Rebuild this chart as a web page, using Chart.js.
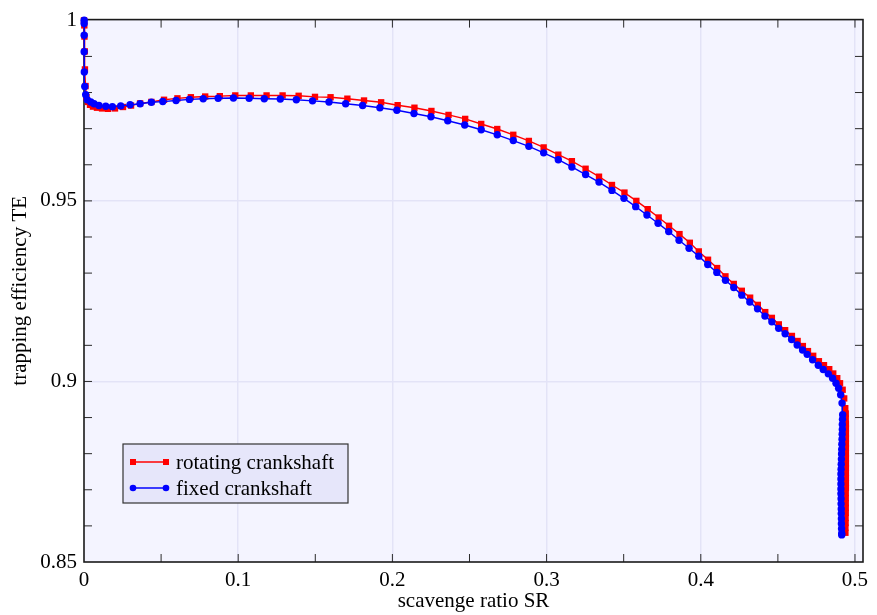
<!DOCTYPE html>
<html>
<head>
<meta charset="utf-8">
<script src="https://cdn.jsdelivr.net/npm/chart.js@4.4.1/dist/chart.umd.min.js"></script>
<style>
  html, body { margin: 0; padding: 0; background: #ffffff; }
  canvas { display: block; }
</style>
</head>
<body>
<canvas id="chart" width="877" height="615"></canvas>
<script>
// Scavenge ratio (SR) and trapping efficiency (TE) for the two crankshaft cases
const srRotating = [
  0.0000, 0.0002, 0.0003, 0.0005, 0.0006, 0.0010, 0.0016, 0.0026, 0.0039, 0.0058,
  0.0084, 0.0117, 0.0156, 0.0201, 0.0253, 0.0305, 0.0364, 0.0437, 0.0519, 0.0606,
  0.0693, 0.0786, 0.0881, 0.0981, 0.1082, 0.1184, 0.1288, 0.1392, 0.1498, 0.1599,
  0.1708, 0.1816, 0.1927, 0.2034, 0.2143, 0.2253, 0.2364, 0.2472, 0.2576, 0.2680,
  0.2784, 0.2885, 0.2981, 0.3076, 0.3164, 0.3253, 0.3340, 0.3424, 0.3505, 0.3582,
  0.3656, 0.3727, 0.3794, 0.3862, 0.3929, 0.3987, 0.4047, 0.4106, 0.4160, 0.4214,
  0.4266, 0.4320, 0.4370, 0.4418, 0.4461, 0.4506, 0.4547, 0.4591, 0.4628, 0.4662,
  0.4695, 0.4729, 0.4766, 0.4799, 0.4833, 0.4859, 0.4885, 0.4903, 0.4920, 0.4930,
  0.4937,
  0.4940, 0.4940, 0.4941, 0.4941, 0.4941, 0.4941, 0.4941, 0.4941, 0.4941, 0.4941,
  0.4941, 0.4941, 0.4941, 0.4941, 0.4941, 0.4941, 0.4940, 0.4940, 0.4940, 0.4940,
  0.4940, 0.4939, 0.4939, 0.4938, 0.4938
];
const teRotating = [
  1.0000, 0.9986, 0.9955, 0.9914, 0.9864, 0.9818, 0.9787, 0.9774, 0.9766, 0.9761,
  0.9758, 0.9756, 0.9755, 0.9756, 0.9760, 0.9764, 0.9770, 0.9774, 0.9780, 0.9784,
  0.9787, 0.9789, 0.9790, 0.9792, 0.9792, 0.9792, 0.9792, 0.9791, 0.9788, 0.9787,
  0.9783, 0.9778, 0.9773, 0.9765, 0.9758, 0.9749, 0.9738, 0.9727, 0.9713, 0.9699,
  0.9683, 0.9666, 0.9648, 0.9628, 0.9610, 0.9589, 0.9567, 0.9544, 0.9523, 0.9500,
  0.9477, 0.9454, 0.9431, 0.9408, 0.9384, 0.9360, 0.9337, 0.9314, 0.9291, 0.9270,
  0.9251, 0.9232, 0.9212, 0.9192, 0.9176, 0.9158, 0.9142, 0.9126, 0.9112, 0.9098,
  0.9084, 0.9071, 0.9056, 0.9045, 0.9034, 0.9022, 0.9009, 0.8995, 0.8977, 0.8953,
  0.8926,
  0.8911, 0.8897, 0.8883, 0.8870, 0.8856, 0.8842, 0.8828, 0.8815, 0.8801, 0.8787,
  0.8773, 0.8760, 0.8746, 0.8732, 0.8718, 0.8705, 0.8691, 0.8677, 0.8663, 0.8650,
  0.8636, 0.8622, 0.8608, 0.8595, 0.8581
];
const srFixed = [
  0.0001, 0.0001, 0.0001, 0.0001, 0.0002, 0.0005, 0.0011, 0.0021, 0.0044, 0.0065,
  0.0097, 0.0141, 0.0184, 0.0238, 0.0299, 0.0364, 0.0437, 0.0511, 0.0597, 0.0684,
  0.0773, 0.0870, 0.0969, 0.1071, 0.1169, 0.1273, 0.1377, 0.1482, 0.1589, 0.1697,
  0.1807, 0.1919, 0.2029, 0.2140, 0.2250, 0.2359, 0.2469, 0.2576, 0.2680, 0.2784,
  0.2885, 0.2981, 0.3076, 0.3164, 0.3253, 0.3340, 0.3424, 0.3502, 0.3578, 0.3651,
  0.3723, 0.3792, 0.3859, 0.3924, 0.3987, 0.4045, 0.4104, 0.4160, 0.4214, 0.4266,
  0.4318, 0.4368, 0.4416, 0.4461, 0.4505, 0.4547, 0.4589, 0.4625, 0.4660, 0.4690,
  0.4725, 0.4762, 0.4794, 0.4827, 0.4855, 0.4877, 0.4894, 0.4907, 0.4916, 0.4920,
  0.4919, 0.4918, 0.4918, 0.4917, 0.4916, 0.4915, 0.4914, 0.4913, 0.4912, 0.4911,
  0.4910, 0.4909, 0.4909, 0.4909, 0.4909, 0.4909, 0.4910, 0.4910, 0.4911, 0.4911,
  0.4912, 0.4912, 0.4913, 0.4914, 0.4914
];
const teFixed = [
  1.0000, 0.9991, 0.9959, 0.9913, 0.9857, 0.9817, 0.9794, 0.9780, 0.9774, 0.9769,
  0.9764, 0.9762, 0.9761, 0.9763, 0.9766, 0.9769, 0.9773, 0.9775, 0.9778, 0.9781,
  0.9783, 0.9784, 0.9785, 0.9784, 0.9783, 0.9782, 0.9780, 0.9777, 0.9774, 0.9769,
  0.9764, 0.9758, 0.9751, 0.9742, 0.9733, 0.9722, 0.9710, 0.9697, 0.9683, 0.9667,
  0.9651, 0.9633, 0.9614, 0.9594, 0.9573, 0.9552, 0.9529, 0.9507, 0.9484, 0.9461,
  0.9438, 0.9415, 0.9391, 0.9369, 0.9347, 0.9324, 0.9302, 0.9280, 0.9260, 0.9239,
  0.9220, 0.9201, 0.9181, 0.9165, 0.9147, 0.9132, 0.9116, 0.9101, 0.9087, 0.9075,
  0.9060, 0.9045, 0.9033, 0.9021, 0.9009, 0.8995, 0.8981, 0.8963, 0.8940, 0.8908,
  0.8895, 0.8881, 0.8867, 0.8854, 0.8840, 0.8826, 0.8812, 0.8799, 0.8785, 0.8771,
  0.8757, 0.8744, 0.8730, 0.8716, 0.8702, 0.8689, 0.8675, 0.8661, 0.8647, 0.8634,
  0.8620, 0.8606, 0.8592, 0.8579, 0.8575
];

const seriesNames = ['rotating crankshaft', 'fixed crankshaft'];
const xTitle = 'scavenge ratio SR';
const yTitle = 'trapping efficiency TE';

const SERIF = '"Liberation Serif", "Times New Roman", serif';
const RED = '#ff0000';
const BLUE = '#0000ff';

const toPoints = (xs, ys) => xs.map((x, i) => ({ x: x, y: ys[i] }));
const isMultiple = (v, step) => Math.abs(v / step - Math.round(v / step)) < 1e-6;

// Plot area fill behind the grid
const plotBackground = {
  id: 'plotBackground',
  beforeDraw(chart) {
    const { ctx, chartArea: a } = chart;
    ctx.save();
    ctx.fillStyle = '#f4f4ff';
    ctx.fillRect(a.left, a.top, a.right - a.left, a.bottom - a.top);
    ctx.restore();
  }
};

// Closed frame with inward tick marks on all four sides
const frameTicks = {
  id: 'frameTicks',
  beforeDatasetsDraw(chart) {
    const { ctx, chartArea: a, scales } = chart;
    const len = 8;
    ctx.save();
    ctx.strokeStyle = '#2a2a2a';
    ctx.lineWidth = 1;
    ctx.beginPath();
    scales.x.ticks.forEach(t => {
      const px = scales.x.getPixelForValue(t.value);
      if (px - a.left < 2 || a.right - px < 2) return;
      ctx.moveTo(px, a.bottom); ctx.lineTo(px, a.bottom - len);
      ctx.moveTo(px, a.top); ctx.lineTo(px, a.top + len);
    });
    scales.y.ticks.forEach(t => {
      const py = scales.y.getPixelForValue(t.value);
      if (py - a.top < 2 || a.bottom - py < 2) return;
      ctx.moveTo(a.left, py); ctx.lineTo(a.left + len, py);
      ctx.moveTo(a.right, py); ctx.lineTo(a.right - len, py);
    });
    ctx.stroke();
    ctx.strokeStyle = '#1a1a1a';
    ctx.lineWidth = 1.6;
    ctx.strokeRect(a.left, a.top, a.right - a.left, a.bottom - a.top);
    ctx.restore();
  }
};

// Boxed legend inside the lower-left of the plot
const boxLegend = {
  id: 'boxLegend',
  afterDraw(chart) {
    const { ctx, chartArea: a } = chart;
    const bx = a.left + 39, by = a.bottom - 118, bw = 225, bh = 59;
    ctx.save();
    ctx.fillStyle = '#e6e6fa';
    ctx.fillRect(bx, by, bw, bh);
    ctx.strokeStyle = '#333333';
    ctx.lineWidth = 1.2;
    ctx.strokeRect(bx, by, bw, bh);

    const rows = [
      { label: chart.data.datasets[1].label, color: RED, shape: 'rect', y: by + 18 },
      { label: chart.data.datasets[0].label, color: BLUE, shape: 'circle', y: by + 44 }
    ];
    const x0 = bx + 10, x1 = bx + 43;
    rows.forEach(r => {
      ctx.strokeStyle = r.color;
      ctx.fillStyle = r.color;
      ctx.lineWidth = 1.3;
      ctx.beginPath();
      ctx.moveTo(x0, r.y); ctx.lineTo(x1, r.y);
      ctx.stroke();
      [x0, x1].forEach(px => {
        ctx.beginPath();
        if (r.shape === 'rect') ctx.rect(px - 3, r.y - 3, 6, 6);
        else ctx.arc(px, r.y, 3.3, 0, Math.PI * 2);
        ctx.fill();
      });
      ctx.fillStyle = '#000000';
      ctx.font = '21px ' + SERIF;
      ctx.textBaseline = 'middle';
      ctx.textAlign = 'left';
      ctx.fillText(r.label, bx + 53, r.y + 1);
    });
    ctx.restore();
  }
};

const tickFont = { family: SERIF, size: 21 };

new Chart(document.getElementById('chart'), {
  type: 'scatter',
  data: {
    datasets: [
      {
        label: seriesNames[1],
        data: toPoints(srFixed, teFixed),
        showLine: true,
        borderColor: BLUE,
        borderWidth: 1.4,
        backgroundColor: BLUE,
        pointStyle: 'circle',
        pointRadius: 3.7,
        pointBorderWidth: 0,
        pointBackgroundColor: BLUE,
        clip: false,
        order: 0
      },
      {
        label: seriesNames[0],
        data: toPoints(srRotating, teRotating),
        showLine: true,
        borderColor: RED,
        borderWidth: 1.4,
        backgroundColor: RED,
        pointStyle: 'rect',
        pointRadius: 4.5,
        pointBorderWidth: 0,
        pointBackgroundColor: RED,
        clip: false,
        order: 1
      }
    ]
  },
  options: {
    responsive: false,
    devicePixelRatio: 1,
    animation: false,
    events: [],
    layout: { padding: { left: 0, right: 14, top: 16, bottom: 0 } },
    plugins: {
      legend: { display: false },
      tooltip: { enabled: false }
    },
    scales: {
      x: {
        type: 'linear',
        min: 0,
        max: 0.5052,
        border: { display: false },
        grid: {
          drawTicks: false,
          lineWidth: 1.5,
          color: c => (c.tick && c.tick.value > 0 && isMultiple(c.tick.value, 0.1)) ? '#e3e3f7' : 'rgba(0,0,0,0)'
        },
        ticks: {
          stepSize: 0.05,
          includeBounds: false,
          autoSkip: false,
          maxRotation: 0,
          padding: 6,
          color: '#000000',
          font: tickFont,
          callback: v => isMultiple(v, 0.1) ? String(Math.round(v * 10) / 10) : ''
        },
        title: {
          display: true,
          text: xTitle,
          color: '#000000',
          font: tickFont,
          padding: { top: 0, bottom: 1 }
        },
        afterFit(s) { s.height = 53; }
      },
      y: {
        type: 'linear',
        min: 0.85,
        max: 1.0002,
        border: { display: false },
        grid: {
          drawTicks: false,
          lineWidth: 1.5,
          color: c => (c.tick && c.tick.value > 0.851 && c.tick.value < 0.999 && isMultiple(c.tick.value, 0.05)) ? '#e3e3f7' : 'rgba(0,0,0,0)'
        },
        ticks: {
          stepSize: 0.01,
          includeBounds: false,
          autoSkip: false,
          padding: 7,
          color: '#000000',
          font: tickFont,
          callback: v => isMultiple(v, 0.05) ? String(Math.round(v * 100) / 100) : ''
        },
        title: {
          display: true,
          text: yTitle,
          color: '#000000',
          font: tickFont,
          padding: { top: 8, bottom: 0 }
        },
        afterFit(s) { s.width = 84; }
      }
    }
  },
  plugins: [plotBackground, frameTicks, boxLegend]
});
</script>
</body>
</html>
